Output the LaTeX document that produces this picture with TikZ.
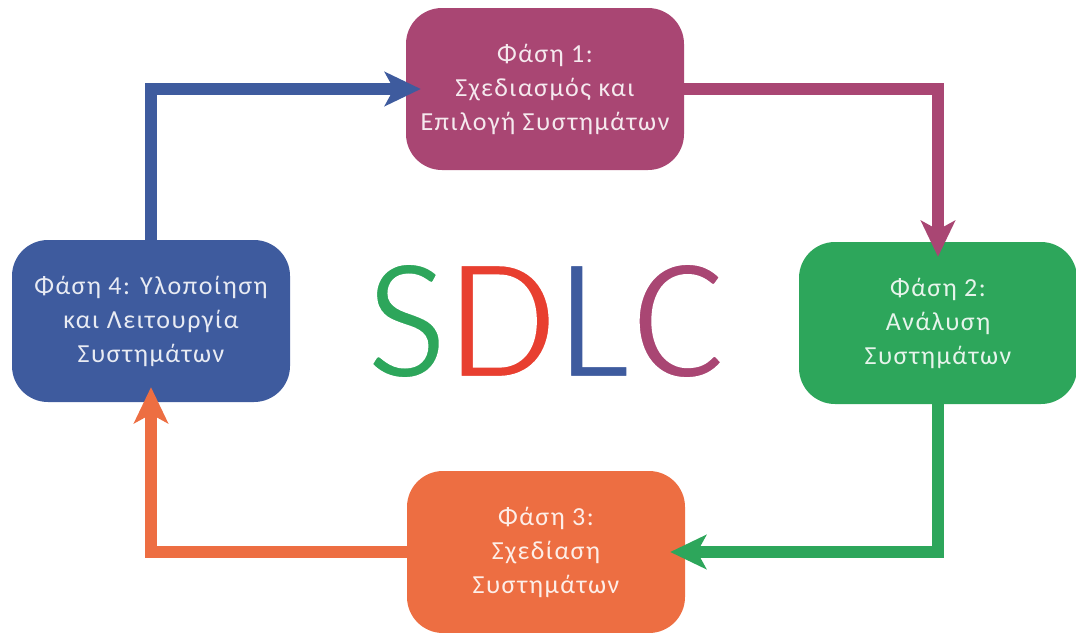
\documentclass[tikz,border=0pt]{standalone}
\usepackage{fontspec}
\setmainfont{Carlito}
\newfontfamily\phasefont[LetterSpace=6]{Carlito}
\newfontfamily\sdlcfont[LetterSpace=4]{Carlito}
\usepackage{tikz}
\usetikzlibrary{arrows.meta,positioning}
\definecolor{phaseone}{RGB}{169,70,115}
\definecolor{phasetwo}{RGB}{45,166,91}
\definecolor{phasethree}{RGB}{237,110,66}
\definecolor{phasefour}{RGB}{62,91,158}
\definecolor{sdlcred}{RGB}{232,63,48}
% thin letters: a white outline eats into each glyph
\newcommand{\thinletter}[2]{\textcolor{#1}{\special{pdf:literal direct 2 Tr 4.5 w 1 1 1 RG}#2}}

\begin{document}
\begin{tikzpicture}[x=1pt,y=-1pt,
		phase/.style={
		  rectangle,
		  rounded corners=36pt,
		  minimum width=278pt,
		  minimum height=162pt,
		  inner sep=0pt,
		  align=center,
		  font=\phasefont\fontsize{26}{34}\selectfont,
		  fill=#1,
		  text=white!88!#1
		},
		cycle/.style={
		  draw=#1,
		  line width=12pt,
		  -{Stealth[length=36pt,width=34pt,inset=9pt]},
		  shorten >=-15pt
		}
		]
		\useasboundingbox (0,0) rectangle (1076,632);
		\node[phase=phaseone] at (545,89)
		  (p1) {Φάση 1:\\Σχεδιασμός και\\Επιλογή Συστημάτων};
		\node[phase=phasetwo] at (938,323)
		  (p2) {Φάση 2:\\Ανάλυση\\Συστημάτων};
		\node[phase=phasethree] at (546,552)
		  (p3) {Φάση 3:\\Σχεδίαση\\Συστημάτων};
		\node[phase=phasefour] at (151,321)
		  (p4) {Φάση 4: Υλοποίηση\\και Λειτουργία\\Συστημάτων};
		\node[font=\sdlcfont\fontsize{178}{178}\selectfont] at (546,321)
		  (sdlc) {\thinletter{phasetwo}{S}\thinletter{sdlcred}{D}\thinletter{phasefour}{L}\thinletter{phaseone}{C}\special{pdf:literal direct 0 Tr}};

		\draw[cycle=phasefour] (p4.north) |- (p1.west);
		\draw[cycle=phaseone] (p1.east) -| (p2.north);
		\draw[cycle=phasetwo] (p2.south) |- (p3.east);
		\draw[cycle=phasethree] (p3.west) -| (p4.south);
	\end{tikzpicture}
\end{document}
